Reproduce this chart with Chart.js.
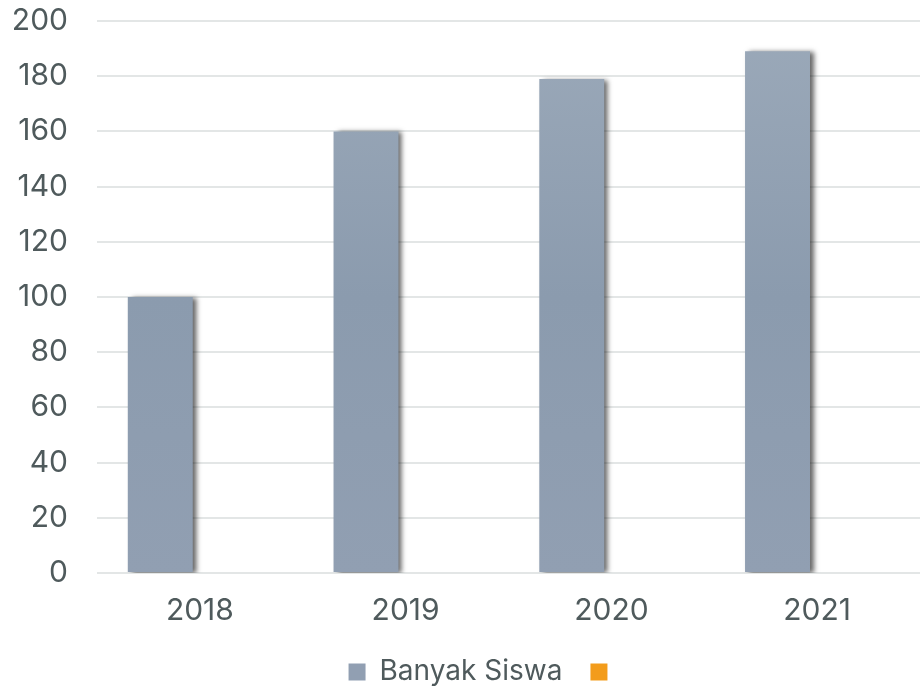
<!DOCTYPE html>
<html>
<head>
<meta charset="utf-8">
<script src="https://cdn.jsdelivr.net/npm/chart.js@4/dist/chart.umd.min.js"></script>
<style>
  html, body { margin: 0; padding: 0; background: #fff; }
  #wrap { width: 920px; height: 688px; }
</style>
</head>
<body>
<div id="wrap"><canvas id="siswaChart" width="920" height="688"></canvas></div>
<script>
// ── Data ──────────────────────────────────────────────────────────────────────

const years = ['2018', '2019', '2020', '2021'];
const banyakSiswa = [100, 160, 179, 189];
const seriesKosong = [null, null, null, null];
const yTicks = [0, 20, 40, 60, 80, 100, 120, 140, 160, 180, 200];

// ── Styling ───────────────────────────────────────────────────────────────────

const TEXT = '#4f5a5c';
const GRID = '#e3e6e6';
const FONT = 'Inter, "Liberation Sans", Arial, sans-serif';

function barGradient(ctx) {
  const area = ctx.chart.chartArea;
  if (!area) return '#8e9cb0';
  const g = ctx.chart.ctx.createLinearGradient(0, area.top, 0, area.bottom);
  g.addColorStop(0, '#9ba9b9');
  g.addColorStop(0.5, '#8b9bae');
  g.addColorStop(1, '#919fb2');
  return g;
}

// soft drop shadow to the right of the bars
const barShadow = {
  id: 'barShadow',
  beforeDatasetsDraw(chart) {
    const c = chart.ctx;
    c.save();
    c.shadowColor = 'rgba(0,0,0,0.6)';
    c.shadowBlur = 5;
    c.shadowOffsetX = 4;
    c.shadowOffsetY = 1;
  },
  afterDatasetsDraw(chart) {
    chart.ctx.restore();
  },
};

// nudge the legend row a little to the right of centre
const legendNudge = {
  id: 'legendNudge',
  afterLayout(chart) {
    if (!chart.legend) return;
    chart.legend.left += 25;
    chart.legend.right += 25;
  },
};

new Chart(document.getElementById('siswaChart'), {
  type: 'bar',
  data: {
    labels: years,
    datasets: [
      {
        label: 'Banyak Siswa',
        data: banyakSiswa,
        backgroundColor: barGradient,
        borderWidth: 0,
      },
      {
        label: '',
        data: seriesKosong,
        backgroundColor: '#f39c1b',
        borderWidth: 0,
      },
    ],
  },
  plugins: [barShadow, legendNudge],
  options: {
    responsive: false,
    animation: false,
    categoryPercentage: 0.77,
    barPercentage: 0.82,
    layout: { padding: { top: 0, right: 0, left: 0, bottom: -8 } },
    plugins: {
      tooltip: { enabled: false },
      legend: {
        position: 'bottom',
        labels: {
          color: TEXT,
          font: { family: FONT, size: 28 },
          boxWidth: 17,
          boxHeight: 17,
          padding: 28,
          generateLabels(chart) {
            return chart.data.datasets.map((ds, i) => ({
              text: ds.label,
              fillStyle: i === 0 ? '#919fb2' : ds.backgroundColor,
              strokeStyle: 'transparent',
              lineWidth: 0,
              datasetIndex: i,
              fontColor: TEXT,
            }));
          },
        },
      },
    },
    scales: {
      x: {
        grid: { display: false },
        border: { display: false },
        afterFit(axis) { axis.height = 57; },
        ticks: {
          color: TEXT,
          font: { family: FONT, size: 30 },
          padding: 12,
        },
      },
      y: {
        min: 0,
        max: 200,
        afterBuildTicks(axis) {
          axis.ticks = yTicks.map((v) => ({ value: v }));
        },
        afterFit(axis) {
          axis.width = 97;
          axis.paddingTop = 21;
        },
        grid: { color: GRID, lineWidth: 2, drawTicks: false },
        border: { display: false },
        ticks: {
          color: TEXT,
          font: { family: FONT, size: 30 },
          padding: 29,
        },
      },
    },
  },
});
</script>
</body>
</html>
